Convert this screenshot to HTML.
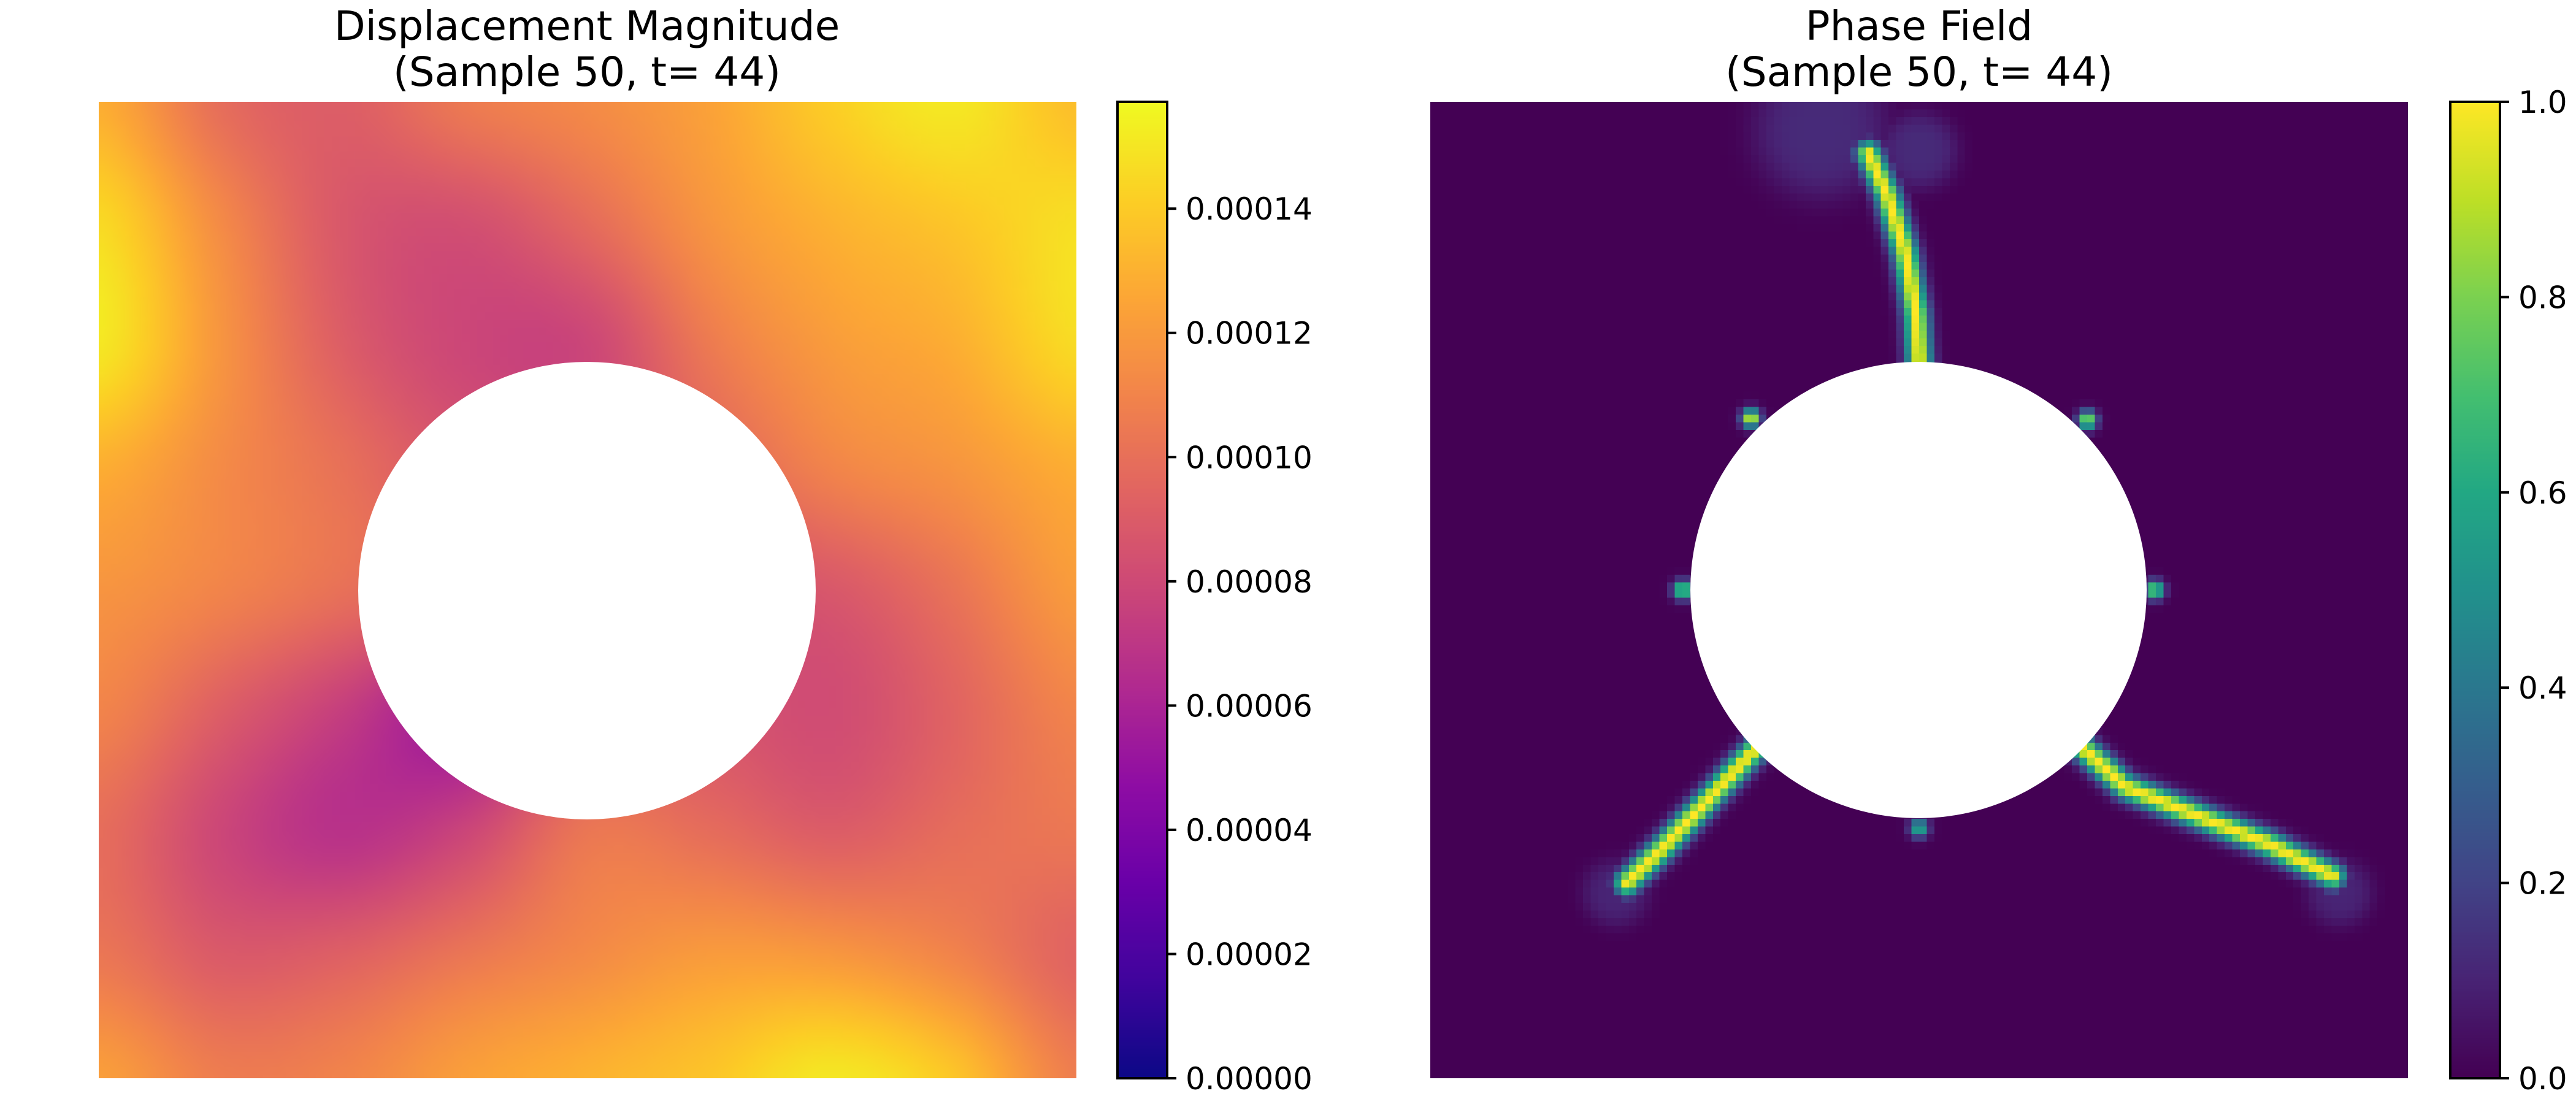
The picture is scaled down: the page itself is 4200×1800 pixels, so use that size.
<!DOCTYPE html>
<html><head><meta charset="utf-8">
<style>
html,body{margin:0;padding:0;background:#fff;}
#root{position:relative;width:4200px;height:1800px;overflow:hidden;font-family:"DejaVu Sans","Liberation Sans",sans-serif;}
canvas{position:absolute;}
svg{position:absolute;left:0;top:0;}
</style></head>
<body>
<div id="root">
<canvas id="disp" width="128" height="128" style="left:161px;top:166px;width:1594px;height:1592px;"></canvas>
<canvas id="phase" width="128" height="128" style="left:2332px;top:166px;width:1594px;height:1592px;image-rendering:pixelated;"></canvas>
<canvas id="cb1" width="1" height="256" style="left:1822px;top:166px;width:81px;height:1592px;"></canvas>
<canvas id="cb2" width="1" height="256" style="left:3995px;top:166px;width:81px;height:1592px;"></canvas>
<svg id="ov" width="4200" height="1800"></svg>
</div>
<script>
// ---- data ----
const dispMax = 0.0001572;
// 9x9 normalized displacement grid (fraction of dispMax), rows top->bottom
const dispRow0 = [0.82,0.63,0.58,0.67,0.72,0.79,0.90,0.96,0.86];
const dispRow1 = [0.93,0.72,0.56,0.53,0.62,0.75,0.83,0.88,0.94];
const dispRow2 = [0.96,0.75,0.58,0.50,0.50,0.67,0.77,0.82,0.93];
const dispRow3 = [0.82,0.72,0.64,0.55,0.55,0.60,0.70,0.75,0.82];
const dispRow4 = [0.75,0.70,0.64,0.58,0.58,0.55,0.56,0.65,0.77];
const dispRow5 = [0.70,0.58,0.47,0.36,0.55,0.55,0.52,0.60,0.70];
const dispRow6 = [0.63,0.50,0.43,0.50,0.66,0.63,0.58,0.63,0.66];
const dispRow7 = [0.66,0.57,0.59,0.66,0.72,0.77,0.76,0.70,0.60];
const dispRow8 = [0.78,0.68,0.70,0.78,0.83,0.88,0.96,0.88,0.68];
const dispTicks = [0,0.00002,0.00004,0.00006,0.00008,0.00010,0.00012,0.00014];
const dispTickLabels = ["0.00000","0.00002","0.00004","0.00006","0.00008","0.00010","0.00012","0.00014"];
const phaseTicks = [0,0.2,0.4,0.6,0.8,1.0];
const phaseTickLabels = ["0.0","0.2","0.4","0.6","0.8","1.0"];
// crack paths in normalized image coords [u,v]
const crackTopU = [0.448,0.467,0.486,0.497,0.500,0.500];
const crackTopV = [0.053,0.094,0.155,0.217,0.265,0.285];
const crackLLU = [0.340,0.284,0.239,0.201];
const crackLLV = [0.655,0.715,0.763,0.800];
const crackLRU = [0.660,0.710,0.779,0.855,0.923];
const crackLRV = [0.655,0.701,0.729,0.759,0.793];
const spotU = [0.328,0.672,0.258,0.741,0.500];
const spotV = [0.324,0.326,0.500,0.500,0.744];
const spotVal = [1.0,0.9,0.85,0.85,0.65];
const glowU = [0.40,0.50,0.19,0.93];
const glowV = [0.03,0.05,0.81,0.81];
const glowR = [0.07,0.04,0.035,0.035];
const glowVal = [0.12,0.12,0.1,0.1];

const plasma=["0d0887","41049d","6a00a8","8f0da4","b12a90","cc4778","e16462","f2844b","fca636","fcce25","f0f921"];
const viridis=["440154","482475","414487","355f8d","2a788e","21918c","22a884","44bf70","7ad151","bddf26","fde725"];
function cmap(stops,t){t=Math.max(0,Math.min(1,t));const f=t*10,i=Math.min(9,Math.floor(f)),r=f-i;
 const a=stops[i],b=stops[i+1];const c=k=>{const x=parseInt(a.substr(k,2),16),y=parseInt(b.substr(k,2),16);return Math.round(x+(y-x)*r);};
 return [c(0),c(2),c(4)];}

const grid=[dispRow0,dispRow1,dispRow2,dispRow3,dispRow4,dispRow5,dispRow6,dispRow7,dispRow8];
function cub(p0,p1,p2,p3,t){return p1+0.5*t*(p2-p0+t*(2*p0-5*p1+4*p2-p3+t*(3*(p1-p2)+p3-p0)));}
function g(r,c){r=Math.max(0,Math.min(8,r));c=Math.max(0,Math.min(8,c));return grid[r][c];}
function sample(u,v){const x=u*8,y=v*8;const i=Math.min(7,Math.floor(y)),j=Math.min(7,Math.floor(x));const ty=y-i,tx=x-j;
 const rows=[];for(let k=-1;k<3;k++)rows.push(cub(g(i+k,j-1),g(i+k,j),g(i+k,j+1),g(i+k,j+2),tx));
 return cub(rows[0],rows[1],rows[2],rows[3],ty);}
(function(){const cv=document.getElementById('disp'),ctx=cv.getContext('2d'),im=ctx.createImageData(128,128);
 for(let y=0;y<128;y++)for(let x=0;x<128;x++){const c=cmap(plasma,sample((x+0.5)/128,(y+0.5)/128));const o=(y*128+x)*4;im.data[o]=c[0];im.data[o+1]=c[1];im.data[o+2]=c[2];im.data[o+3]=255;}
 ctx.putImageData(im,0,0);})();

function segDist(px,py,ax,ay,bx,by){const dx=bx-ax,dy=by-ay;let t=((px-ax)*dx+(py-ay)*dy)/(dx*dx+dy*dy);t=Math.max(0,Math.min(1,t));const qx=ax+t*dx-px,qy=ay+t*dy-py;return Math.sqrt(qx*qx+qy*qy);}
function polyDist(px,py,U,V){let d=1e9;for(let i=0;i<U.length-1;i++)d=Math.min(d,segDist(px,py,U[i]*128,V[i]*128,U[i+1]*128,V[i+1]*128));return d;}
(function(){const cv=document.getElementById('phase'),ctx=cv.getContext('2d'),im=ctx.createImageData(128,128);
 for(let y=0;y<128;y++)for(let x=0;x<128;x++){const px=x+0.5,py=y+0.5;let val=0;
  for(const [U,V] of [[crackTopU,crackTopV],[crackLLU,crackLLV],[crackLRU,crackLRV]]){const d=polyDist(px,py,U,V);val=Math.max(val,Math.exp(-d*d/2.6));}
  for(let k=0;k<spotU.length;k++){const dx=px-spotU[k]*128,dy=py-spotV[k]*128;const d=Math.sqrt(dx*dx+dy*dy);val=Math.max(val,spotVal[k]*Math.exp(-d*d/1.4));}
  for(let k=0;k<glowU.length;k++){const dx=(px/128-glowU[k])/glowR[k],dy=(py/128-glowV[k])/glowR[k];const d=dx*dx+dy*dy;val=Math.max(val,glowVal[k]*Math.exp(-d*d));}
  const c=cmap(viridis,val);const o=(y*128+x)*4;im.data[o]=c[0];im.data[o+1]=c[1];im.data[o+2]=c[2];im.data[o+3]=255;}
 ctx.putImageData(im,0,0);})();

for(const [id,st] of [['cb1',plasma],['cb2',viridis]]){const ctx=document.getElementById(id).getContext('2d');
 for(let i=0;i<256;i++){const c=cmap(st,1-i/255);ctx.fillStyle='rgb('+c+')';ctx.fillRect(0,i,1,1);}}

const NS='http://www.w3.org/2000/svg',ov=document.getElementById('ov');
function el(tag,attrs,txt){const e=document.createElementNS(NS,tag);for(const k in attrs)e.setAttribute(k,attrs[k]);if(txt!==undefined)e.textContent=txt;ov.appendChild(e);return e;}
const c1=el('circle',{cx:957,cy:963,r:373,fill:'#fff'});


const c2=el('circle',{cx:3128,cy:962,r:372,fill:'#fff'});


const b1=el('rect',{x:1822,y:166,width:81,height:1592,fill:'none',stroke:'#000','stroke-width':4});


const b2=el('rect',{x:3995,y:166,width:81,height:1592,fill:'none',stroke:'#000','stroke-width':4});


const cbTop=166,cbBot=1758;
function yDisp(v){return cbBot-(v/dispMax)*(cbBot-cbTop);}
function yPhase(v){return cbBot-v*(cbBot-cbTop);}
dispTicks.forEach((v,i)=>{const y=yDisp(v);
 const t=el('line',{x1:1903,x2:1918,y1:y,y2:y,stroke:'#000','stroke-width':4});
 
 
 const l=el('text',{x:1933,y:y+18,'font-size':50,fill:'#000'},dispTickLabels[i]);
 
 });
phaseTicks.forEach((v,i)=>{const y=yPhase(v);
 const t=el('line',{x1:4076,x2:4091,y1:y,y2:y,stroke:'#000','stroke-width':4});
 
 
 const l=el('text',{x:4106,y:y+18,'font-size':50,fill:'#000'},phaseTickLabels[i]);
 
 });
const titles=[[957,'Displacement Magnitude','title-left'],[3129,'Phase Field','title-right']];
titles.forEach(([x,t,n])=>{
 const a=el('text',{x:x,y:65,'font-size':66,'text-anchor':'middle',fill:'#000'},t);
 
 
 const b=el('text',{x:x,y:140,'font-size':66,'text-anchor':'middle',fill:'#000'},'(Sample 50, t= 44)');
 
 });
</script>
</body></html>
